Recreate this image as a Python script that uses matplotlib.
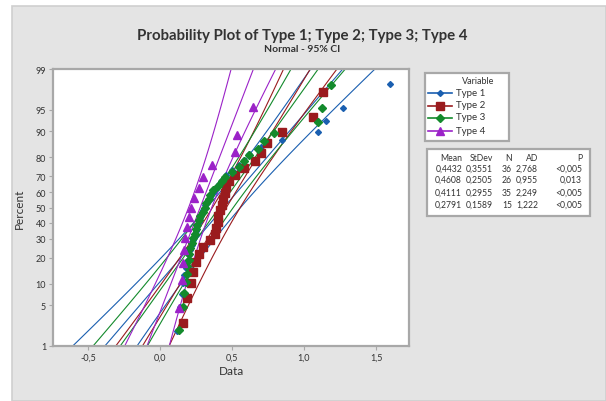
"""Minitab-style normal probability plot of four types with 95% CI bands."""

from statistics import NormalDist

import matplotlib
matplotlib.use('Agg')
import matplotlib.pyplot as plt
import numpy as np
from matplotlib.lines import Line2D
from matplotlib.patches import Rectangle

plt.rcParams['font.family'] = ['Lato', 'DejaVu Sans']

# data (sorted values per type)
type1 = [0.12, 0.14, 0.15, 0.16, 0.17, 0.18, 0.19, 0.20, 0.21, 0.22, 0.23,
         0.24, 0.25, 0.26, 0.27, 0.28, 0.29, 0.30, 0.31, 0.33, 0.35, 0.37,
         0.39, 0.41, 0.43, 0.46, 0.50, 0.55, 0.58, 0.62, 0.70, 0.85, 1.10,
         1.15, 1.27, 1.60]
type2 = [0.16, 0.19, 0.215, 0.23, 0.25, 0.27, 0.30, 0.35, 0.38, 0.39, 0.40,
         0.40, 0.42, 0.43, 0.44, 0.45, 0.46, 0.48, 0.52, 0.58, 0.66, 0.70,
         0.74, 0.85, 1.06, 1.13]
type3 = [0.135, 0.16, 0.17, 0.18, 0.19, 0.19, 0.20, 0.20, 0.21, 0.22, 0.23,
         0.24, 0.25, 0.26, 0.27, 0.28, 0.30, 0.31, 0.32, 0.34, 0.35, 0.37,
         0.40, 0.43, 0.45, 0.50, 0.55, 0.58, 0.62, 0.68, 0.72, 0.79, 1.10,
         1.125, 1.19]
type4 = [0.13, 0.155, 0.16, 0.165, 0.175, 0.19, 0.20, 0.215, 0.235, 0.27,
         0.30, 0.36, 0.52, 0.535, 0.646]

names = ['Type 1', 'Type 2', 'Type 3', 'Type 4']
means = [0.4432, 0.4608, 0.4111, 0.2791]
stdevs = [0.3551, 0.2505, 0.2955, 0.1589]
counts = [36, 26, 35, 15]
ad_vals = ['2,768', '0,955', '2,249', '1,222']
p_vals = ['<0,005', '0,013', '<0,005', '<0,005']

pct_ticks = [1, 5, 10, 20, 30, 40, 50, 60, 70, 80, 90, 95, 99]
x_ticks = [-0.5, 0.0, 0.5, 1.0, 1.5]

colors = ['#1a5fb0', '#9a1b1e', '#138a2c', '#9b22c8']
markers = ['D', 's', 'D', '^']
msizes = [3.0, 5.2, 4.5, 6.2]

W, H = 606, 402
BG = '#e4e4e4'
GRID = '#a8a8a8'
TXT = '#333333'

nd = NormalDist()
zlo, zhi = nd.inv_cdf(0.01), nd.inv_cdf(0.99)

fig = plt.figure(figsize=(W / 100, H / 100), dpi=100)
fig.patch.set_facecolor('white')
fig.patches.append(Rectangle((12 / W, 0), 1 - 12 / W, 1 - 7 / H,
                             transform=fig.transFigure, facecolor=BG,
                             edgecolor='#cfcfcf', lw=1.2, zorder=-10))

ax = fig.add_axes([53 / W, 55 / H, 356 / W, 277 / H])
ax.set_facecolor('white')

series = [type1, type2, type3, type4]

# fitted lines and 95% CI bands
zz = np.linspace(zlo - 0.1, zhi + 0.1, 80)
for m, s, n, c in zip(means, stdevs, counts, colors):
    fit = m + s * zz
    half = 1.96 * s * np.sqrt(1 / n + zz ** 2 / (2 * n))
    for xs in (fit - half, fit, fit + half):
        ax.plot(xs, zz, '-', color=c, lw=0.8, zorder=2)

# data points at median-rank plotting positions
for vals, c, mk, ms in zip(series, colors, markers, msizes):
    vals = np.sort(vals)
    n = len(vals)
    ranks = np.arange(1, n + 1)
    zp = [nd.inv_cdf(p) for p in (ranks - 0.3) / (n + 0.4)]
    ax.plot(vals, zp, linestyle='none', marker=mk, color=c, ms=ms,
            mec=c, zorder=3)

ax.set_xlim(-0.743, 1.729)
ax.set_ylim(zlo, zhi)
ax.set_yticks([nd.inv_cdf(p / 100) for p in pct_ticks])
ax.set_yticklabels([str(p) for p in pct_ticks])
ax.set_xticks(x_ticks)
ax.set_xticklabels([f'{v:.1f}'.replace('.', ',') for v in x_ticks])
ax.tick_params(direction='out', length=3, width=0.8, color=GRID,
               labelsize=6.5, labelcolor=TXT, pad=2)
for sp in ax.spines.values():
    sp.set_color(GRID)
    sp.set_linewidth(1.6)
ax.set_xlabel('Data', fontsize=8.5, color=TXT, labelpad=2)
ax.set_ylabel('Percent', fontsize=8.5, color=TXT, labelpad=8)

fig.text(302 / W, 1 - 36 / H, 'Probability Plot of Type 1; Type 2; Type 3; Type 4',
         ha='center', va='center', fontsize=10.8, fontweight='bold', color=TXT)
fig.text(302 / W, 1 - 50 / H, 'Normal - 95% CI', ha='center', va='center',
         fontsize=7.5, fontweight='bold', color=TXT)

# legend box
fig.patches.append(Rectangle((425 / W, 1 - 142 / H), 84 / W, 68 / H,
                             transform=fig.transFigure, facecolor='white',
                             edgecolor=GRID, lw=1.6, zorder=5))
fig.text(478 / W, 1 - 82 / H, 'Variable', ha='center', va='center',
         fontsize=6.5, color=TXT, zorder=6)
leg_y = [94, 107, 119, 132]
for ly, name, c, mk, ms in zip(leg_y, names, colors, markers, msizes):
    fig.add_artist(Line2D([428 / W, 452 / W], [1 - ly / H, 1 - ly / H],
                          transform=fig.transFigure, color=c, lw=1.2,
                          zorder=6))
    fig.add_artist(Line2D([440 / W], [1 - ly / H], transform=fig.transFigure,
                          color=c, marker=mk, ms=ms, linestyle='none',
                          zorder=7))
    fig.text(456 / W, 1 - (ly - 1) / H, name, ha='left', va='center',
             fontsize=7, color=TXT, zorder=6)

# statistics table
fig.patches.append(Rectangle((427 / W, 1 - 217 / H), 163 / W, 67 / H,
                             transform=fig.transFigure, facecolor='white',
                             edgecolor=GRID, lw=1.6, zorder=5))
col_x = [462, 493, 512, 538, 582]
headers = ['Mean', 'StDev', 'N', 'AD', 'P']
for cx, h in zip(col_x, headers):
    fig.text(cx / W, 1 - 161 / H, h, ha='right', va='baseline', fontsize=6.2,
             color=TXT, zorder=6)
row_y = [172, 183, 196, 208]
for ry, m, s, n, a, p in zip(row_y, means, stdevs, counts, ad_vals, p_vals):
    cells = [f'{m:.4f}'.replace('.', ','), f'{s:.4f}'.replace('.', ','),
             str(n), a, p]
    for cx, txt in zip(col_x, cells):
        fig.text(cx / W, 1 - ry / H, txt, ha='right', va='baseline',
                 fontsize=6.2, color=TXT, zorder=6)

fig.savefig('out.png', dpi=100)
